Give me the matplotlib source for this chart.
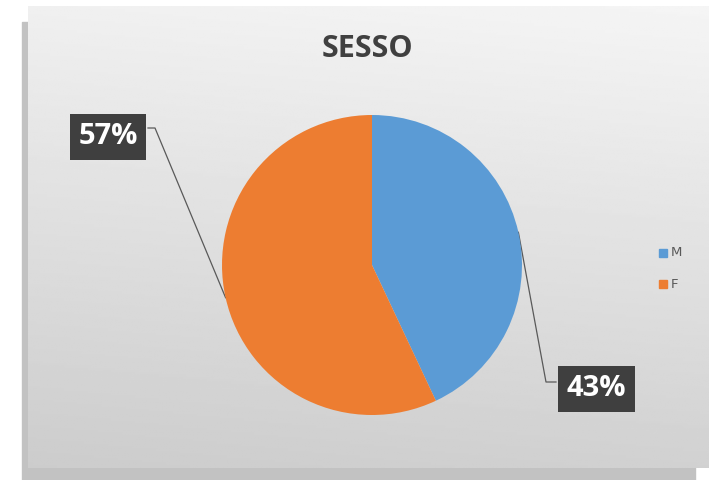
import numpy as np
import matplotlib
matplotlib.use('Agg')
import matplotlib.pyplot as plt
from matplotlib.patches import Rectangle

# data
labels = ['M', 'F']
values = [43, 57]
colors = ['#5B9BD5', '#ED7D31']
title = 'SESSO'

W, H = 709, 480
fig = plt.figure(figsize=(W / 100, H / 100), dpi=100)
fig.patch.set_facecolor('white')

# background axes in pixel coordinates
bg = fig.add_axes([0, 0, 1, 1])
bg.set_xlim(0, W)
bg.set_ylim(H, 0)
bg.axis('off')

# shadow panel
bg.add_patch(Rectangle((22, 22), 673, 460, color='#C2C2C2', zorder=1))
# front panel with gradient
yy = np.linspace(0, 1, 200)[:, None]
xx = np.linspace(0, 1, 200)[None, :]
grad = 0.96 - 0.14 * yy - 0.02 * (1 - xx)
bg.imshow(grad, cmap='gray', vmin=0, vmax=1, extent=(28, W, 468, 6),
          aspect='auto', zorder=2)

bg.text(367, 49, title, ha='center', va='center', fontsize=22,
        fontweight='bold', color='#404040', family='Open Sans', zorder=3)

# pie
cx, cy, r = 372, 265, 150
pax = fig.add_axes([(cx - r) / W, (H - cy - r) / H, 2 * r / W, 2 * r / H])
wedges, _ = pax.pie(values, colors=colors, startangle=90, counterclock=False,
                    radius=1, wedgeprops=dict(linewidth=0))
pax.set_xlim(-1, 1)
pax.set_ylim(-1, 1)
pax.set_aspect('equal')
pax.axis('off')

# data labels with leader lines
label_pos = [(596, 389), (108, 137)]  # box centers (px)
for w, v, (tx, ty) in zip(wedges, values, label_pos):
    ang = np.deg2rad((w.theta1 + w.theta2) / 2)
    ax_ = cx + r * np.cos(ang)
    ay_ = cy - r * np.sin(ang)
    if tx > cx:
        ex, ey = tx - 40, ty - 7
        kx = ex - 10
    else:
        ex, ey = tx + 40, ty - 9
        kx = ex + 7
    bg.plot([ax_, kx, ex], [ay_, ey, ey], color='#595959', lw=0.9, zorder=4)
    bg.text(tx, ty, f'{v}%', ha='center', va='center', fontsize=21,
            fontweight='bold', color='white', family='Open Sans', zorder=5,
            bbox=dict(boxstyle='square,pad=0.3', fc='#3F3F3F', ec='none'))

# legend
for i, (lab, c) in enumerate(zip(labels, colors)):
    ly = 253 + i * 31
    bg.add_patch(Rectangle((659, ly - 4), 8, 8, color=c, zorder=4))
    bg.text(671, ly, lab, ha='left', va='center', fontsize=9.5,
            color='#595959', zorder=4)

fig.savefig('out.png', dpi=100)
